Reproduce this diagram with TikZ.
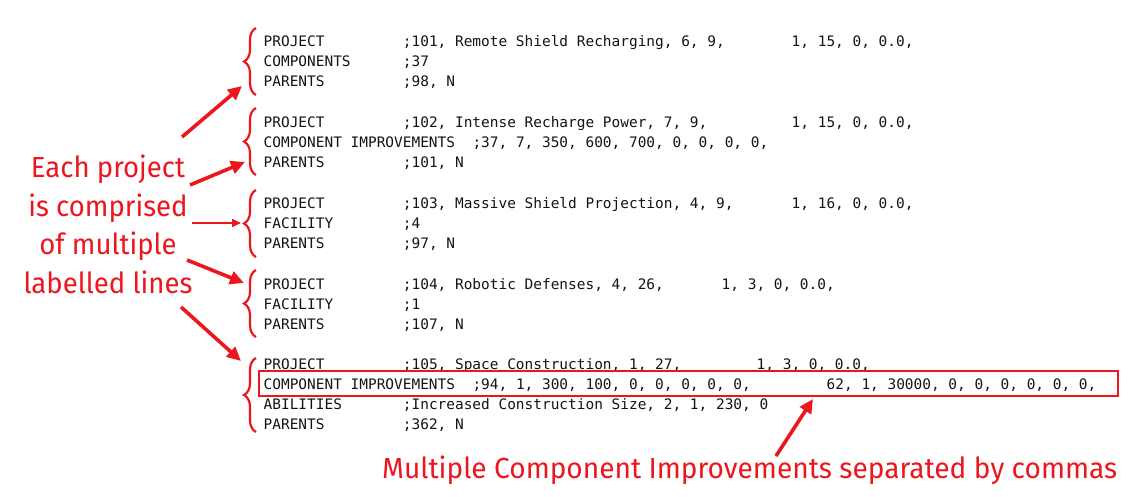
\documentclass[tikz,border=0pt]{standalone}
\usepackage{fontspec}
\setmainfont{Fira Sans}
\newfontfamily\codefont{DejaVu Sans Mono}
\usetikzlibrary{arrows.meta,decorations.pathreplacing}
\definecolor{annot}{RGB}{236,22,30}
\definecolor{codeink}{RGB}{20,20,20}
\tikzset{
  lbl/.style={anchor=base west, inner sep=0pt, font=\codefont\fontsize{14.45}{20}\selectfont, text=codeink},
  bignote/.style={anchor=base, inner sep=0pt, font=\fontsize{29}{38}\selectfont, text=annot},
  callout/.style={draw=annot, line width=3.6pt, -{Triangle[length=14pt,width=13pt]}},
  thincallout/.style={draw=annot, line width=1.6pt, -{Triangle[length=9pt,width=8pt]}},
  grp/.style={draw=annot, line width=2.2pt, decorate, decoration={brace, amplitude=12pt, aspect=0.5}},
  hibox/.style={draw=annot, line width=2pt},
}
\newcommand{\narrowtext}[1]{\scalebox{0.95}[1]{#1}}
\begin{document}
\begin{tikzpicture}[x=1pt,y=-1pt]
\fill[white] (0,0) rectangle (1138,497);
\useasboundingbox (0,0) rectangle (1138,497);

% group 1
\node[lbl] (g1a) at (263.5,46.5) {PROJECT};
\node[lbl] (g1av) at (402.7,46.5) {;101, Remote Shield Recharging, 6, 9,};
\node[lbl] (g1at) at (791.5,46.5) {1, 15, 0, 0.0,};
\node[lbl] (g1b) at (263.5,66.5) {COMPONENTS};
\node[lbl] (g1bv) at (402.7,66.5) {;37};
\node[lbl] (g1c) at (263.5,86.5) {PARENTS};
\node[lbl] (g1cv) at (402.7,86.5) {;98, N};

% group 2
\node[lbl] (g2a) at (263.5,127.3) {PROJECT};
\node[lbl] (g2av) at (402.7,127.3) {;102, Intense Recharge Power, 7, 9,};
\node[lbl] (g2at) at (791.5,127.3) {1, 15, 0, 0.0,};
\node[lbl] (g2b) at (263.5,147.3) {COMPONENT IMPROVEMENTS};
\node[lbl] (g2bv) at (472.3,147.3) {;37, 7, 350, 600, 700, 0, 0, 0, 0,};
\node[lbl] (g2c) at (263.5,167.3) {PARENTS};
\node[lbl] (g2cv) at (402.7,167.3) {;101, N};

% group 3
\node[lbl] (g3a) at (263.5,208.3) {PROJECT};
\node[lbl] (g3av) at (402.7,208.3) {;103, Massive Shield Projection, 4, 9,};
\node[lbl] (g3at) at (791.5,208.3) {1, 16, 0, 0.0,};
\node[lbl] (g3b) at (263.5,228.3) {FACILITY};
\node[lbl] (g3bv) at (402.7,228.3) {;4};
\node[lbl] (g3c) at (263.5,248.3) {PARENTS};
\node[lbl] (g3cv) at (402.7,248.3) {;97, N};

% group 4
\node[lbl] (g4a) at (263.5,289) {PROJECT};
\node[lbl] (g4av) at (402.7,289) {;104, Robotic Defenses, 4, 26,};
\node[lbl] (g4at) at (721.5,289) {1, 3, 0, 0.0,};
\node[lbl] (g4b) at (263.5,309) {FACILITY};
\node[lbl] (g4bv) at (402.7,309) {;1};
\node[lbl] (g4c) at (263.5,329) {PARENTS};
\node[lbl] (g4cv) at (402.7,329) {;107, N};

% group 5
\node[lbl] (g5a) at (263.5,369.5) {PROJECT};
\node[lbl] (g5av) at (402.7,369.5) {;105, Space Construction, 1, 27,};
\node[lbl] (g5at) at (756.5,369.5) {1, 3, 0, 0.0,};
\node[lbl] (g5b) at (263.5,389.5) {COMPONENT IMPROVEMENTS};
\node[lbl] (g5bv) at (472.3,389.5) {;94, 1, 300, 100, 0, 0, 0, 0, 0,};
\node[lbl] (g5bt) at (826.5,389.5) {62, 1, 30000, 0, 0, 0, 0, 0, 0,};
\node[lbl] (g5c) at (263.5,409.5) {ABILITIES};
\node[lbl] (g5cv) at (402.7,409.5) {;Increased Construction Size, 2, 1, 230, 0};
\node[lbl] (g5d) at (263.5,429.5) {PARENTS};
\node[lbl] (g5dv) at (402.7,429.5) {;362, N};

% highlight box
\node[hibox, minimum width=859pt, minimum height=25pt, inner sep=0pt] (hl) at (688.5,383.5) {};

% braces
\coordinate (b1b) at (256,95);  \coordinate (b1t) at (256,28);
\coordinate (b2b) at (256,175); \coordinate (b2t) at (256,108);
\coordinate (b3b) at (256,257); \coordinate (b3t) at (256,190);
\coordinate (b4b) at (256,337); \coordinate (b4t) at (256,270);
\coordinate (b5b) at (256,432); \coordinate (b5t) at (256,358);
\draw[grp] (b1b) -- (b1t);
\draw[grp] (b2b) -- (b2t);
\draw[grp] (b3b) -- (b3t);
\draw[grp] (b4b) -- (b4t);
\draw[grp] (b5b) -- (b5t);

% big note
\node[bignote] (n1) at (108,178) {\narrowtext{Each project}};
\node[bignote] (n2) at (108,216.3) {\narrowtext{is comprised}};
\node[bignote] (n3) at (108,254.7) {\narrowtext{of multiple}};
\node[bignote] (n4) at (108,293) {\narrowtext{labelled lines}};

\node[anchor=base west, inner sep=0pt, font=\fontsize{29}{34}\selectfont, text=annot] (bottomnote) at (382,478) {\resizebox{735pt}{\height}{Multiple Component Improvements separated by commas}};

% arrows
\coordinate (a1s) at (182,137); \coordinate (a1e) at (242,86);
\coordinate (a2s) at (190,185); \coordinate (a2e) at (245,162);
\coordinate (a3s) at (192,223); \coordinate (a3e) at (241,223);
\coordinate (a4s) at (187,260); \coordinate (a4e) at (244,283);
\coordinate (a5s) at (181,307); \coordinate (a5e) at (241,361);
\coordinate (a6s) at (776,456); \coordinate (a6e) at (813,399);
\draw[callout] (a1s) -- (a1e);
\draw[callout] (a2s) -- (a2e);
\draw[thincallout] (a3s) -- (a3e);
\draw[callout] (a4s) -- (a4e);
\draw[callout] (a5s) -- (a5e);
\draw[callout] (a6s) -- (a6e);
\end{tikzpicture}
\end{document}
